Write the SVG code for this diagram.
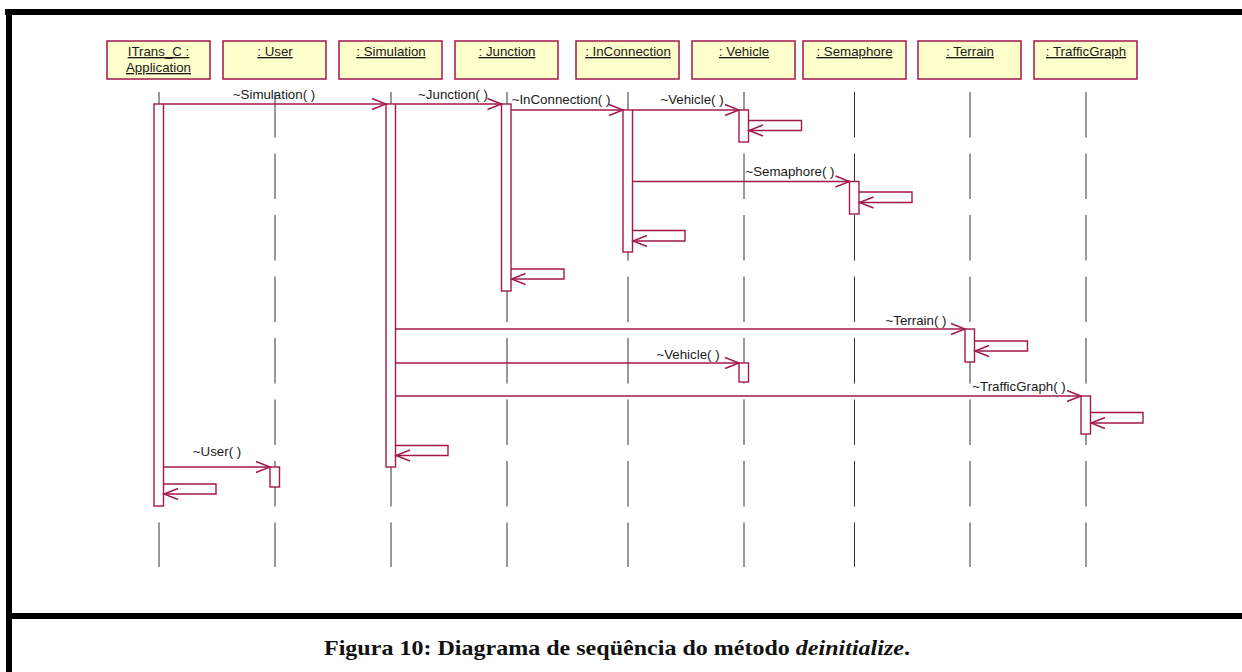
<svg xmlns="http://www.w3.org/2000/svg" width="1242" height="672" viewBox="0 0 1242 672">
  <style>
    .obj rect { fill: #FFFFCC; stroke: #A3174C; stroke-width: 1.5; }
    .obj text { font-family: "Liberation Sans", Arial, sans-serif; font-size: 13.3px; fill: #1a1a1a; text-anchor: middle; text-decoration: underline; }
    .life { stroke: #333; stroke-width: 1; stroke-dasharray: 45.5 16; fill: none; }
    .act { fill: #ffffff; stroke: #A3174C; stroke-width: 1.4; }
    .msg { fill: none; stroke: #A3174C; stroke-width: 1.4; marker-end: url(#open); }
    .lbl { font-family: "Liberation Sans", Arial, sans-serif; font-size: 13.3px; fill: #1a1a1a; text-anchor: middle; }
    .cap { font-family: "Liberation Serif", "Times New Roman", serif; font-size: 22px; font-weight: bold; fill: #111; }
  </style>
  <defs>
    <marker id="open" markerUnits="userSpaceOnUse" markerWidth="20" markerHeight="16" viewBox="-16 -8 20 16" refX="0" refY="0" orient="auto" overflow="visible">
      <path d="M -14 -5.5 L 0 0 L -14 5.5" fill="none" stroke="#A3174C" stroke-width="1.4"/>
    </marker>
  </defs>

  <rect width="1242" height="672" fill="#ffffff"/>

  <!-- frame -->
  <g id="frame" fill="#000">
    <rect x="5" y="9" width="1237" height="6"/>
    <rect x="6" y="9" width="6" height="663"/>
    <rect x="12" y="613" width="1230" height="6"/>
  </g>

  <!-- lifelines -->
  <g id="lifelines">
    <line class="life" x1="159" y1="92" x2="159" y2="567"/>
    <line class="life" x1="275" y1="92" x2="275" y2="567"/>
    <line class="life" x1="391" y1="92" x2="391" y2="567"/>
    <line class="life" x1="507" y1="92" x2="507" y2="567"/>
    <line class="life" x1="628" y1="92" x2="628" y2="567"/>
    <line class="life" x1="744" y1="92" x2="744" y2="567"/>
    <line class="life" x1="854.5" y1="92" x2="854.5" y2="567"/>
    <line class="life" x1="970" y1="92" x2="970" y2="567"/>
    <line class="life" x1="1086" y1="92" x2="1086" y2="567"/>
  </g>

  <!-- object heads -->
  <g id="obj-application" class="obj">
    <rect x="107" y="41" width="103" height="38"/>
    <text x="158.5" y="56">ITrans_C :</text>
    <text x="158.5" y="72">Application</text>
  </g>
  <g id="obj-user" class="obj">
    <rect x="223" y="41" width="103" height="38"/>
    <text x="275" y="56">: User</text>
  </g>
  <g id="obj-simulation" class="obj">
    <rect x="339" y="41" width="103" height="38"/>
    <text x="391" y="56">: Simulation</text>
  </g>
  <g id="obj-junction" class="obj">
    <rect x="455" y="41" width="103" height="38"/>
    <text x="507" y="56">: Junction</text>
  </g>
  <g id="obj-inconnection" class="obj">
    <rect x="576" y="41" width="103" height="38"/>
    <text x="628" y="56">: InConnection</text>
  </g>
  <g id="obj-vehicle" class="obj">
    <rect x="692" y="41" width="103" height="38"/>
    <text x="744" y="56">: Vehicle</text>
  </g>
  <g id="obj-semaphore" class="obj">
    <rect x="803" y="41" width="103" height="38"/>
    <text x="854.5" y="56">: Semaphore</text>
  </g>
  <g id="obj-terrain" class="obj">
    <rect x="918" y="41" width="103" height="38"/>
    <text x="970" y="56">: Terrain</text>
  </g>
  <g id="obj-trafficgraph" class="obj">
    <rect x="1034" y="41" width="103" height="38"/>
    <text x="1086" y="56">: TrafficGraph</text>
  </g>

  <!-- activation bars -->
  <g id="activations">
    <rect class="act" x="154" y="104" width="9.5" height="402"/>
    <rect class="act" x="386" y="104" width="9.5" height="363"/>
    <rect class="act" x="501.5" y="104" width="9.5" height="187"/>
    <rect class="act" x="623" y="110" width="9.5" height="142"/>
    <rect class="act" x="739" y="110" width="9.5" height="32"/>
    <rect class="act" x="849.5" y="181.5" width="9.5" height="32.5"/>
    <rect class="act" x="965" y="329" width="9.5" height="33"/>
    <rect class="act" x="739" y="363" width="9.5" height="19"/>
    <rect class="act" x="1081" y="396" width="9.5" height="38"/>
    <rect class="act" x="270" y="467" width="9.5" height="20"/>
  </g>

  <!-- messages -->
  <g id="connectors">
    <path class="msg" d="M 163.5 104 H 386"/>
    <path class="msg" d="M 395.5 104 H 501.5"/>
    <path class="msg" d="M 511 110 H 623"/>
    <path class="msg" d="M 632.5 110 H 739"/>
    <path class="msg" d="M 748.5 120.5 H 801.5 V 130.5 H 749"/>
    <path class="msg" d="M 632.5 181.5 H 849.5"/>
    <path class="msg" d="M 859 192 H 912 V 202.5 H 859.5"/>
    <path class="msg" d="M 632.5 230.5 H 685 V 241 H 633"/>
    <path class="msg" d="M 511 269 H 564 V 279 H 511.5"/>
    <path class="msg" d="M 395.5 329 H 965"/>
    <path class="msg" d="M 974.5 341 H 1027.5 V 351 H 975"/>
    <path class="msg" d="M 395.5 363 H 739"/>
    <path class="msg" d="M 395.5 396 H 1081"/>
    <path class="msg" d="M 1090.5 412.5 H 1143 V 423 H 1091"/>
    <path class="msg" d="M 395.5 445.5 H 448 V 455.5 H 396"/>
    <path class="msg" d="M 163.5 467 H 270"/>
    <path class="msg" d="M 163.5 484 H 216 V 494 H 164"/>
  </g>

  <!-- message labels -->
  <g id="labels">
    <text class="lbl" x="274" y="99">~Simulation( )</text>
    <text class="lbl" x="453" y="99">~Junction( )</text>
    <text class="lbl" x="561" y="104">~InConnection( )</text>
    <text class="lbl" x="692" y="104">~Vehicle( )</text>
    <text class="lbl" x="790" y="176">~Semaphore( )</text>
    <text class="lbl" x="916" y="324.5">~Terrain( )</text>
    <text class="lbl" x="688" y="359">~Vehicle( )</text>
    <text class="lbl" x="1019" y="391">~TrafficGraph( )</text>
    <text class="lbl" x="217" y="456">~User( )</text>
  </g>

  <!-- caption -->
  <text class="cap" x="324" y="655" textLength="586" lengthAdjust="spacingAndGlyphs">Figura 10: Diagrama de seqüência do método <tspan font-style="italic">deinitialize</tspan>.</text>
</svg>
